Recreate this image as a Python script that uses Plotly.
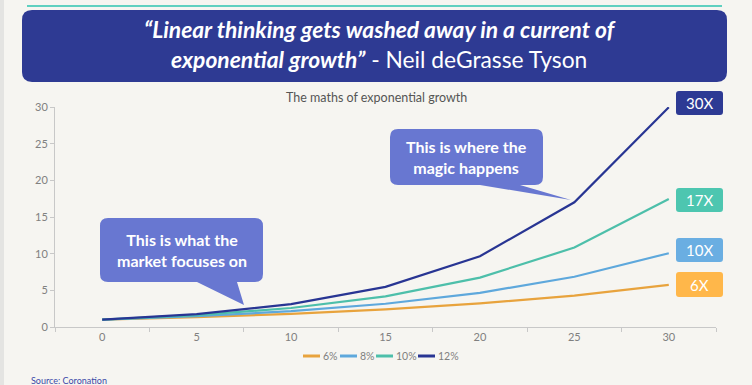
import plotly.graph_objects as go

years = ["0", "5", "10", "15", "20", "25", "30"]
s6 = [1.00, 1.34, 1.79, 2.40, 3.21, 4.29, 5.74]
s8 = [1.00, 1.47, 2.16, 3.17, 4.66, 6.85, 10.06]
s10 = [1.00, 1.61, 2.59, 4.18, 6.73, 10.83, 17.45]
s12 = [1.00, 1.76, 3.11, 5.47, 9.65, 17.00, 29.96]
series_names = ["6%", "8%", "10%", "12%"]
series_vals = [s6, s8, s10, s12]
line_colors = ["#e8a33d", "#5ea8dc", "#4dbfaa", "#283593"]
end_labels = ["6X", "10X", "17X", "30X"]
label_colors = ["#ffb74a", "#6aaee2", "#4dc6b0", "#2d3a94"]
y_ticks = [0, 5, 10, 15, 20, 25, 30]

W, H = 752, 385
L, R, T, B = 55, 716, 107, 327
PW, PH = R - L, B - T


def fx(px):
    return (px - L) / PW


def fy(py):
    return (B - py) / PH


def pt(x, y):
    return f"{fx(x):.5f},{fy(y):.5f}"


def rounded_path(x0, y0, x1, y1, r, tail=None):
    p = f"M {pt(x0 + r, y0)} L {pt(x1 - r, y0)} Q {pt(x1, y0)} {pt(x1, y0 + r)} "
    p += f"L {pt(x1, y1 - r)} Q {pt(x1, y1)} {pt(x1 - r, y1)} "
    if tail:
        b1, b2, tx, ty = tail
        p += f"L {pt(b2, y1)} L {pt(tx, ty)} L {pt(b1, y1)} "
    p += f"L {pt(x0 + r, y1)} Q {pt(x0, y1)} {pt(x0, y1 - r)} "
    p += f"L {pt(x0, y0 + r)} Q {pt(x0, y0)} {pt(x0 + r, y0)} Z"
    return p


fig = go.Figure()
for name, vals, col in zip(series_names, series_vals, line_colors):
    fig.add_trace(go.Scatter(x=years, y=vals, name=name, mode="lines",
                             line=dict(color=col, width=2.2), showlegend=False))

shapes = []
annotations = []

# left grey strip
shapes.append(dict(type="rect", xref="paper", yref="paper", x0=fx(0), x1=fx(4), y0=fy(0), y1=fy(H),
                   fillcolor="#e4e4e2", line=dict(width=0), layer="below"))
# teal top line
shapes.append(dict(type="line", xref="paper", yref="paper", x0=fx(27), x1=fx(722), y0=fy(6), y1=fy(6),
                   line=dict(color="#5fd0c0", width=2)))
# headline box
shapes.append(dict(type="path", xref="paper", yref="paper", path=rounded_path(22, 10, 727, 82, 10),
                   fillcolor="#2e3a93", line=dict(width=0)))
annotations.append(dict(xref="paper", yref="paper", x=fx(380), y=fy(43.5), xanchor="center", yanchor="middle",
                        text="<b><i>“Linear thinking gets washed away in a current of</i></b><br>"
                             "<b><i>exponential growth”</i></b> - Neil deGrasse Tyson",
                        showarrow=False, align="center",
                        font=dict(family="Lato", size=22.8, color="white")))

# chart title
annotations.append(dict(xref="paper", yref="paper", x=fx(376), y=fy(97), xanchor="center", yanchor="middle",
                        text="The maths of exponential growth", showarrow=False,
                        font=dict(family="Lato", size=12.5, color="#555555")))

# callouts
callout_col = "#6877d1"
shapes.append(dict(type="path", xref="paper", yref="paper",
                   path=rounded_path(100, 218, 263, 282, 8, tail=(197, 237, 244, 305)),
                   fillcolor=callout_col, line=dict(width=0)))
annotations.append(dict(xref="paper", yref="paper", x=fx(181.5), y=fy(250), xanchor="center", yanchor="middle",
                        text="<b>This is what the<br>market focuses on</b>", showarrow=False,
                        font=dict(family="Lato", size=16, color="white")))
shapes.append(dict(type="path", xref="paper", yref="paper",
                   path=rounded_path(390, 129, 543, 185, 8, tail=(480, 520, 571, 200)),
                   fillcolor=callout_col, line=dict(width=0)))
annotations.append(dict(xref="paper", yref="paper", x=fx(466.5), y=fy(157), xanchor="center", yanchor="middle",
                        text="<b>This is where the<br>magic happens</b>", showarrow=False,
                        font=dict(family="Lato", size=16, color="white")))

# end labels
label_boxes = [(272, 297), (238, 262), (188, 212), (91, 115)]
for (y0, y1), txt, col in zip(label_boxes, end_labels, label_colors):
    shapes.append(dict(type="path", xref="paper", yref="paper",
                       path=rounded_path(676, y0, 723, y1, 3), fillcolor=col, line=dict(width=0)))
    annotations.append(dict(xref="paper", yref="paper", x=fx(699.5), y=fy((y0 + y1) / 2),
                            xanchor="center", yanchor="middle", text=txt, showarrow=False,
                            font=dict(family="Lato", size=15, color="white")))

# compact legend
legend_x = [303, 340, 376, 418]
for lx, name, col in zip(legend_x, series_names, line_colors):
    shapes.append(dict(type="line", xref="paper", yref="paper", x0=fx(lx), x1=fx(lx + 17),
                       y0=fy(356), y1=fy(356), line=dict(color=col, width=3)))
    annotations.append(dict(xref="paper", yref="paper", x=fx(lx + 17.5), y=fy(356), xanchor="left",
                            yanchor="middle", text=name, showarrow=False,
                            font=dict(family="Lato", size=10.5, color="#808080")))

# source
annotations.append(dict(xref="paper", yref="paper", x=fx(29), y=fy(380), xanchor="left", yanchor="middle",
                        text="Source: Coronation", showarrow=False,
                        font=dict(family="Lato", size=9, color="#3b4aa8")))

bg = "#f6f5f1"
fig.update_layout(
    width=W, height=H,
    margin=dict(l=L, r=W - R, t=T, b=H - B),
    paper_bgcolor=bg, plot_bgcolor=bg,
    shapes=shapes, annotations=annotations,
    showlegend=False,
    xaxis=dict(type="category", range=[-0.5, 6.5], tickson="boundaries", showgrid=False,
               showline=True, linecolor="#c8c8c8", linewidth=1, ticks="outside", ticklen=4,
               tickcolor="#c8c8c8", tickfont=dict(family="Lato", size=11, color="#808080"), zeroline=False),
    yaxis=dict(range=[0, 30], tickvals=y_ticks, showgrid=False, showline=True, linecolor="#c8c8c8",
               linewidth=1, ticks="outside", ticklen=4, tickcolor="#c8c8c8",
               tickfont=dict(family="Lato", size=11, color="#808080"), zeroline=False),
    font=dict(family="Lato"),
)

fig.write_html("out.html", config={"displayModeBar": False},
               post_script="document.body.style.margin='0';document.body.style.overflow='hidden';"
                           "document.body.style.background='#f6f5f1';")
